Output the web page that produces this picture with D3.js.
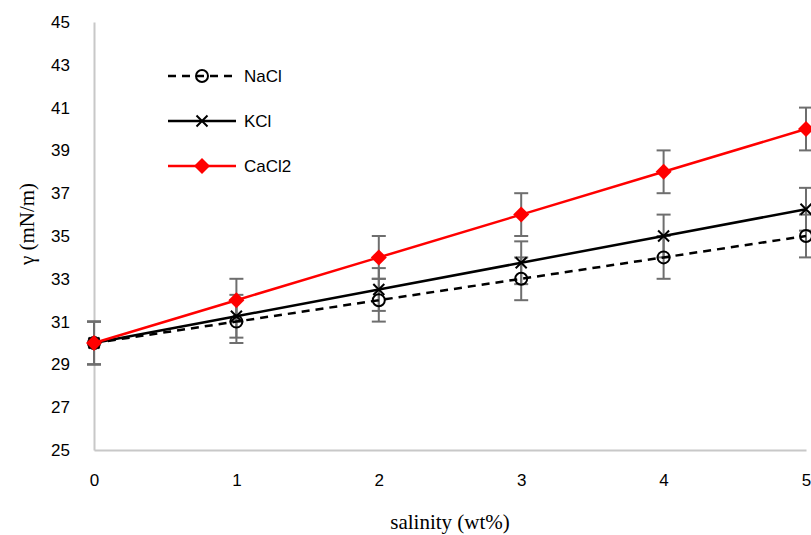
<!DOCTYPE html>
<html>
<head>
<meta charset="utf-8">
<script src="https://cdn.jsdelivr.net/npm/d3@7"></script>
<style>
  body { margin: 0; background: #fff; }
  svg { display: block; }
</style>
</head>
<body>
<svg id="chart" width="811" height="535"></svg>
<script>
const salinity = [0, 1, 2, 3, 4, 5]
const nacl = [30, 31, 32, 33, 34, 35]
const kcl = [30, 31.25, 32.5, 33.75, 35, 36.25]
const cacl2 = [30, 32, 34, 36, 38, 40]
const errors = [1, 1, 1, 1, 1, 1]
const yTicks = [25, 27, 29, 31, 33, 35, 37, 39, 41, 43, 45]

const series = [
	{ name: 'NaCl', values: nacl, color: '#000', dash: '8,6', marker: 'circle' },
	{ name: 'KCl', values: kcl, color: '#000', dash: null, marker: 'cross' },
	{ name: 'CaCl2', values: cacl2, color: '#ff0000', dash: null, marker: 'diamond' }
]

const svg = d3.select('#chart')
const x = d3.scaleLinear().domain([0, 5]).range([94, 806])
const y = d3.scaleLinear().domain([25, 45]).range([450, 22])
const tickFont = '"Liberation Sans", Arial, sans-serif'

// axes
const xAxis = svg.append('g')
	.attr('transform', `translate(0,${y(25)})`)
	.call(d3.axisBottom(x).tickValues(salinity).tickFormat(d3.format('d')).tickSize(0).tickPadding(24))
const yAxis = svg.append('g')
	.attr('transform', `translate(${x(0)},0)`)
	.call(d3.axisLeft(y).tickValues(yTicks).tickSize(0).tickPadding(24))
;[xAxis, yAxis].forEach(a => {
	a.select('.domain').attr('stroke', '#c8c8c8').attr('stroke-width', 2)
	a.selectAll('text').attr('font-family', tickFont).attr('font-size', 17).attr('fill', '#000')
})

// error bars
const eb = svg.append('g')
series.forEach(s => {
	s.values.forEach((v, i) => {
		const cx = x(salinity[i])
		const y0 = y(v - errors[i]), y1 = y(v + errors[i])
		eb.append('line').attr('x1', cx).attr('x2', cx).attr('y1', y0).attr('y2', y1)
			.attr('stroke', '#6e6e6e').attr('stroke-width', 2)
		;[y0, y1].forEach(yy => eb.append('line')
			.attr('x1', cx - 7).attr('x2', cx + 7).attr('y1', yy).attr('y2', yy)
			.attr('stroke', '#6e6e6e').attr('stroke-width', 2))
	})
})

const line = d3.line().x((d, i) => x(salinity[i])).y(d => y(d))

const drawMarker = (g, type, cx, cy, color) => {
	if (type === 'circle') {
		g.append('circle').attr('cx', cx).attr('cy', cy).attr('r', 6)
			.attr('fill', 'none').attr('stroke', color).attr('stroke-width', 2)
	} else if (type === 'cross') {
		const r = 5.5
		g.append('path').attr('d', `M${cx - r},${cy - r}L${cx + r},${cy + r}M${cx - r},${cy + r}L${cx + r},${cy - r}`)
			.attr('stroke', color).attr('stroke-width', 2)
	} else {
		const r = 8
		g.append('path').attr('d', `M${cx},${cy - r}L${cx + r},${cy}L${cx},${cy + r}L${cx - r},${cy}Z`)
			.attr('fill', color)
	}
}

series.forEach(s => {
	svg.append('path').datum(s.values).attr('d', line)
		.attr('fill', 'none').attr('stroke', s.color).attr('stroke-width', 2.5)
		.attr('stroke-dasharray', s.dash)
	const g = svg.append('g')
	s.values.forEach((v, i) => drawMarker(g, s.marker, x(salinity[i]), y(v), s.color))
})

// legend
const legend = svg.append('g')
series.forEach((s, i) => {
	const ly = 76 + i * 45
	legend.append('line').attr('x1', 168).attr('x2', 236).attr('y1', ly).attr('y2', ly)
		.attr('stroke', s.color).attr('stroke-width', 2.5).attr('stroke-dasharray', s.dash)
	drawMarker(legend, s.marker, 202, ly, s.color)
	legend.append('text').attr('x', 244).attr('y', ly + 6).text(s.name)
		.attr('font-family', tickFont).attr('font-size', 17)
})

// axis titles
svg.append('text').attr('x', 450).attr('y', 529).attr('text-anchor', 'middle')
	.attr('font-family', '"Liberation Serif", "Times New Roman", serif').attr('font-size', 21)
	.text('salinity (wt%)')
svg.append('text').attr('transform', 'translate(34,224) rotate(-90)').attr('text-anchor', 'middle')
	.attr('font-family', '"Liberation Serif", "Times New Roman", serif').attr('font-size', 21)
	.text('γ (mN/m)')
</script>
</body>
</html>
